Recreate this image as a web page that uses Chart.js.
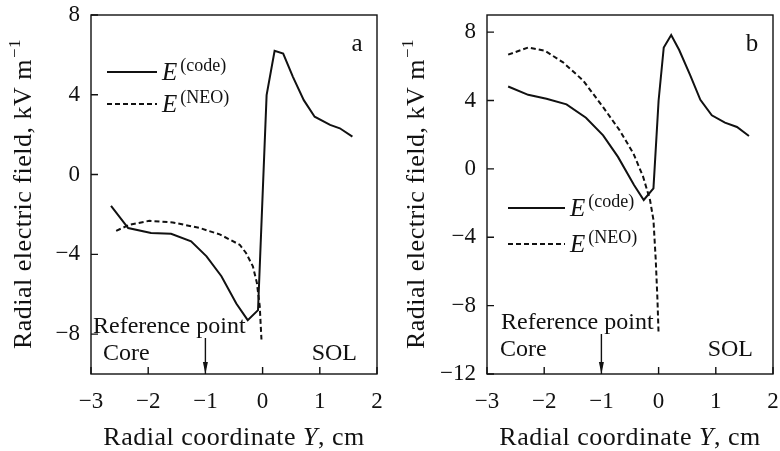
<!DOCTYPE html>
<html>
<head>
<meta charset="utf-8">
<script src="https://cdn.jsdelivr.net/npm/chart.js@4.4.0/dist/chart.umd.min.js"></script>
<style>
  html, body { margin: 0; padding: 0; background: #fff; }
  #wrap { position: relative; width: 780px; height: 451px; }
  .panel { position: absolute; top: 0; width: 390px; height: 451px; }
</style>
</head>
<body>
<div id="wrap">
  <div class="panel" style="left:0"><canvas id="chartA" width="390" height="451"></canvas></div>
  <div class="panel" style="left:390px"><canvas id="chartB" width="390" height="451"></canvas></div>
</div>
<script>
// x ticks shared by both panels
const xTicks = [-3, -2, -1, 0, 1, 2];
const yTicksA = [-8, -4, 0, 4, 8];
const yTicksB = [-12, -8, -4, 0, 4, 8];

// panel a
const codeAx = [-2.65, -2.35, -1.95, -1.60, -1.25, -0.98, -0.72, -0.46, -0.26, -0.08, 0.07, 0.21, 0.36, 0.53, 0.72, 0.91, 1.18, 1.35, 1.57];
const codeAy = [-1.57, -2.68, -2.93, -2.97, -3.35, -4.10, -5.10, -6.47, -7.30, -6.80, 3.98, 6.20, 6.07, 4.90, 3.73, 2.90, 2.49, 2.32, 1.90];
const neoAx = [-2.56, -2.33, -1.98, -1.57, -1.10, -0.75, -0.40, -0.29, -0.17, -0.10, -0.05, -0.02];
const neoAy = [-2.82, -2.52, -2.32, -2.40, -2.68, -3.00, -3.52, -3.93, -4.60, -5.43, -6.60, -8.27];

// panel b
const codeBx = [-2.63, -2.28, -1.96, -1.61, -1.27, -0.97, -0.71, -0.43, -0.26, -0.09, 0.00, 0.09, 0.22, 0.36, 0.55, 0.73, 0.93, 1.16, 1.37, 1.58];
const codeBy = [4.82, 4.33, 4.10, 3.77, 2.99, 1.96, 0.70, -0.95, -1.82, -1.14, 4.00, 7.10, 7.83, 6.95, 5.50, 4.04, 3.13, 2.70, 2.45, 1.92];
const neoBx = [-2.63, -2.28, -1.99, -1.67, -1.32, -0.97, -0.68, -0.44, -0.27, -0.15, -0.09, -0.05, -0.02, 0.00];
const neoBy = [6.68, 7.10, 6.91, 6.23, 5.17, 3.61, 2.25, 0.90, -0.47, -1.82, -2.99, -5.32, -7.65, -9.69];

const SERIF = '"Liberation Serif", "Times New Roman", serif';
const INK = '#111';

const pts = (xs, ys) => xs.map((v, i) => ({ x: v, y: ys[i] }));
const fmt = v => (v < 0 ? '\u2212' + Math.abs(v) : String(v));

// frame, inward ticks, titles, legend and notes
const panelDecor = {
  id: 'panelDecor',
  afterDraw(chart, args, o) {
    const { ctx, chartArea: ca, scales: { x, y } } = chart;
    ctx.save();
    ctx.strokeStyle = INK;
    ctx.fillStyle = INK;
    ctx.lineWidth = 1.4;
    ctx.strokeRect(ca.left, ca.top, ca.right - ca.left, ca.bottom - ca.top);

    ctx.beginPath();
    x.ticks.forEach(t => {
      const px = x.getPixelForValue(t.value);
      ctx.moveTo(px, ca.bottom); ctx.lineTo(px, ca.bottom - 7);
    });
    y.ticks.forEach(t => {
      const py = y.getPixelForValue(t.value);
      ctx.moveTo(ca.left, py); ctx.lineTo(ca.left + 7, py);
    });
    ctx.stroke();

    // x title
    ctx.textBaseline = 'alphabetic';
    ctx.letterSpacing = '0.5px';
    const parts = [['Radial coordinate ', 'normal'], ['Y', 'italic'], [', cm', 'normal']];
    let total = 0;
    parts.forEach(p => { ctx.font = p[1] + ' 26px ' + SERIF; total += ctx.measureText(p[0]).width; });
    let cx = (ca.left + ca.right) / 2 - total / 2;
    parts.forEach(p => {
      ctx.font = p[1] + ' 26px ' + SERIF;
      ctx.textAlign = 'left';
      ctx.fillText(p[0], cx, 445);
      cx += ctx.measureText(p[0]).width;
    });

    // y title, rotated
    ctx.save();
    ctx.translate(o.yTitleX, (ca.top + ca.bottom) / 2);
    ctx.rotate(-Math.PI / 2);
    ctx.font = '26px ' + SERIF;
    const main = 'Radial electric field, kV m';
    const wMain = ctx.measureText(main).width;
    ctx.font = '17px ' + SERIF;
    const wSup = ctx.measureText('\u22121').width;
    let sx = -(wMain + wSup) / 2;
    ctx.font = '26px ' + SERIF;
    ctx.textAlign = 'left';
    ctx.fillText(main, sx, 0);
    ctx.font = '17px ' + SERIF;
    ctx.fillText('\u22121', sx + wMain + 1, -11);
    ctx.restore();
    ctx.letterSpacing = '0px';

    // panel letter
    ctx.font = '25px ' + SERIF;
    ctx.textAlign = 'center';
    ctx.fillText(o.letter, o.letterX, 51);

    // legend
    const rows = [['(code)', []], ['(NEO)', [5, 3]]];
    rows.forEach((r, i) => {
      const ly = o.legY[i];
      ctx.setLineDash(r[1]);
      ctx.lineWidth = 2;
      ctx.beginPath();
      ctx.moveTo(o.legX, ly); ctx.lineTo(o.legX + o.legLen, ly);
      ctx.stroke();
      ctx.setLineDash([]);
      ctx.textAlign = 'left';
      ctx.font = 'italic 25px ' + SERIF;
      const ex = o.legX + o.legLen + 5;
      ctx.fillText('E', ex, ly + 8);
      const ew = ctx.measureText('E').width;
      ctx.font = '18px ' + SERIF;
      ctx.fillText(r[0], ex + ew + 3, ly - 1);
    });

    // notes
    ctx.font = '24px ' + SERIF;
    ctx.textAlign = 'left';
    ctx.fillText('Reference point', o.refX, o.refY);
    ctx.fillText('Core', o.coreX, o.coreY);
    ctx.textAlign = 'right';
    ctx.fillText('SOL', o.solX, o.coreY);

    // arrow at the reference point
    const ax = x.getPixelForValue(-1);
    ctx.lineWidth = 1.4;
    ctx.beginPath();
    ctx.moveTo(ax, o.refY + 5); ctx.lineTo(ax, ca.bottom - 6);
    ctx.stroke();
    ctx.beginPath();
    ctx.moveTo(ax - 2.5, ca.bottom - 12);
    ctx.lineTo(ax + 2.5, ca.bottom - 12);
    ctx.lineTo(ax, ca.bottom);
    ctx.closePath();
    ctx.fill();
    ctx.restore();
  }
};

function makePanel(id, code, neo, yMin, yMax, yTicks, plotLeft, plotRight, deco) {
  return new Chart(document.getElementById(id), {
    type: 'scatter',
    data: {
      datasets: [
        { label: 'code', data: code, showLine: true, borderColor: INK, borderWidth: 2, pointRadius: 0, tension: 0 },
        { label: 'NEO', data: neo, showLine: true, borderColor: INK, borderWidth: 2, borderDash: [5, 3], pointRadius: 0, tension: 0 }
      ]
    },
    options: {
      responsive: false,
      animation: false,
      events: [],
      layout: { padding: { left: 0, right: 390 - plotRight, top: 15, bottom: 0 } },
      plugins: { legend: { display: false }, tooltip: { enabled: false }, panelDecor: deco },
      scales: {
        x: {
          type: 'linear', min: -3, max: 2,
          afterBuildTicks: s => { s.ticks = xTicks.map(v => ({ value: v })); },
          afterFit: s => { s.height = 451 - 374; s.paddingLeft = 0; s.paddingRight = 0; },
          grid: { display: false, drawTicks: false },
          border: { display: false },
          ticks: { font: { family: SERIF, size: 23 }, color: INK, padding: 14, maxRotation: 0, callback: fmt }
        },
        y: {
          type: 'linear', min: yMin, max: yMax,
          afterBuildTicks: s => { s.ticks = yTicks.map(v => ({ value: v })); },
          afterFit: s => { s.width = plotLeft; s.paddingTop = 0; s.paddingBottom = 0; },
          grid: { display: false, drawTicks: false },
          border: { display: false },
          ticks: { font: { family: SERIF, size: 23 }, color: INK, padding: 11, callback: fmt }
        }
      }
    },
    plugins: [panelDecor]
  });
}

makePanel('chartA', pts(codeAx, codeAy), pts(neoAx, neoAy), -10, 8, yTicksA, 91, 377, {
  letter: 'a', letterX: 357, yTitleX: 31,
  legX: 107, legLen: 50, legY: [72, 104],
  refX: 93, refY: 333, coreX: 103, coreY: 360, solX: 357
});

makePanel('chartB', pts(codeBx, codeBy), pts(neoBx, neoBy), -12, 9, yTicksB, 97, 383, {
  letter: 'b', letterX: 362, yTitleX: 34,
  legX: 118, legLen: 57, legY: [208, 244],
  refX: 111, refY: 329, coreX: 110, coreY: 356, solX: 363
});
</script>
</body>
</html>
